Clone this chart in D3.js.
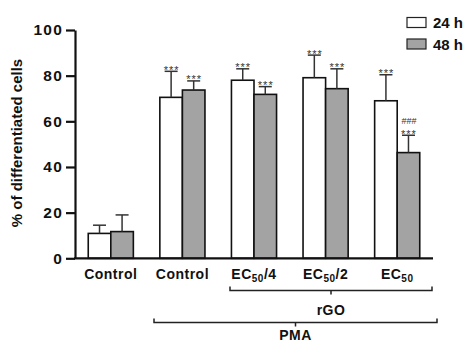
<!DOCTYPE html>
<html>
<head>
<meta charset="utf-8">
<script src="https://cdn.jsdelivr.net/npm/d3@7"></script>
<style>
  body { margin: 0; background: #fff; }
  svg { display: block; font-family: Arial, "Liberation Sans", sans-serif; }
</style>
</head>
<body>
<svg id="chart" width="467" height="344"></svg>
<script>
// values
const groups = ["g1", "g2", "g3", "g4", "g5"];
const groupLabels = [["Control"], ["Control"], ["EC", "50", "/4"], ["EC", "50", "/2"], ["EC", "50"]];
const series = ["24 h", "48 h"];
const mean24 = [10.9, 70.5, 78, 79.1, 69];
const err24 = [3.6, 11.4, 5, 9.9, 11.4];
const mean48 = [11.7, 73.7, 71.8, 74.3, 46.3];
const err48 = [7.3, 4, 3.4, 8.7, 7.6];
const sig24 = ["", "***", "***", "***", "***"];
const sig48 = ["", "***", "***", "***", "***"];
const hash48 = ["", "", "", "", "###"];
const yTicks = [0, 20, 40, 60, 80, 100];

const fills = ["#ffffff", "#a3a3a3"];

const svg = d3.select("#chart");

const x = d3.scaleBand().domain(groups).range([75, 433]).paddingInner(0.37).paddingOuter(0.185);
const xs = d3.scaleBand().domain(series).range([0, x.bandwidth()]);
const y = d3.scaleLinear().domain([0, 100]).range([258.3, 30]);

const rows = [];
groups.forEach((g, i) => {
  rows.push({ g, s: "24 h", v: mean24[i], e: err24[i], sig: sig24[i], hash: "" });
  rows.push({ g, s: "48 h", v: mean48[i], e: err48[i], sig: sig48[i], hash: hash48[i] });
});

// bars
svg.append("g")
  .selectAll("rect")
  .data(rows)
  .join("rect")
  .attr("x", d => x(d.g) + xs(d.s))
  .attr("y", d => y(d.v))
  .attr("width", xs.bandwidth())
  .attr("height", d => y(0) - y(d.v))
  .attr("fill", d => fills[series.indexOf(d.s)])
  .attr("stroke", "#111")
  .attr("stroke-width", 1.6);

// error bars (upper only)
const eb = svg.append("g").attr("stroke", "#333").attr("stroke-width", 1.5);
rows.forEach(d => {
  const cx = x(d.g) + xs(d.s) + xs.bandwidth() / 2;
  eb.append("line").attr("x1", cx).attr("x2", cx).attr("y1", y(d.v)).attr("y2", y(d.v + d.e));
  eb.append("line").attr("x1", cx - 6.5).attr("x2", cx + 6.5).attr("y1", y(d.v + d.e)).attr("y2", y(d.v + d.e));
});

// significance marks
const sg = svg.append("g").attr("text-anchor", "middle").attr("fill", "#333").attr("font-size", 11).attr("letter-spacing", 1);
rows.forEach(d => {
  const cx = x(d.g) + xs(d.s) + xs.bandwidth() / 2 + 0.5;
  const top = y(d.v + d.e);
  if (d.sig) sg.append("text").attr("x", cx).attr("y", top + 2.5).text(d.sig);
  if (d.hash) sg.append("text").attr("x", cx).attr("y", top - 11.5).attr("font-size", 9).attr("letter-spacing", 0).text(d.hash);
});

// y axis
const yAxis = svg.append("g")
  .attr("transform", "translate(75,0)")
  .call(d3.axisLeft(y).tickValues(yTicks).tickSize(9).tickPadding(3).tickSizeOuter(0));
yAxis.select(".domain").attr("stroke", "#111").attr("stroke-width", 2.2);
yAxis.selectAll(".tick line").attr("stroke", "#111").attr("stroke-width", 2.2);
yAxis.selectAll(".tick text")
  .attr("font-size", 15.5).attr("font-weight", "bold").attr("fill", "#111")
  .attr("letter-spacing", 1.2)
  .attr("font-family", "Arial, 'Liberation Sans', sans-serif");

// x axis line
svg.append("line")
  .attr("x1", 74).attr("x2", 433).attr("y1", y(0)).attr("y2", y(0))
  .attr("stroke", "#111").attr("stroke-width", 2.2);

// y title
svg.append("text")
  .attr("transform", `translate(22,143) rotate(-90)`)
  .attr("text-anchor", "middle")
  .attr("font-size", 15).attr("font-weight", "bold").attr("fill", "#111")
  .text("% of differentiated cells");

// category labels
const xl = svg.append("g").attr("font-size", 14).attr("font-weight", "bold").attr("fill", "#111")
  .attr("text-anchor", "middle").attr("letter-spacing", 0.5);
groups.forEach((g, i) => {
  const t = xl.append("text").attr("x", x(g) + x.bandwidth() / 2).attr("y", 279);
  const parts = groupLabels[i];
  t.append("tspan").text(parts[0]);
  if (parts.length > 1) {
    t.append("tspan").attr("font-size", 10).attr("dy", 3).text(parts[1]);
    if (parts[2]) t.append("tspan").attr("dy", -3).text(parts[2]);
  }
});

// brackets
function bracket(x1, x2, yy, label, labelY) {
  const mid = (x1 + x2) / 2;
  svg.append("path")
    .attr("d", `M${x1},${yy - 4}V${yy}H${x2}V${yy - 4}M${mid},${yy}V${yy + 4}`)
    .attr("fill", "none").attr("stroke", "#222").attr("stroke-width", 1.5);
  svg.append("text").attr("x", mid).attr("y", labelY)
    .attr("text-anchor", "middle").attr("font-size", 14).attr("font-weight", "bold").attr("fill", "#111")
    .attr("letter-spacing", 0.5)
    .text(label);
}
bracket(230, 432, 290.5, "rGO", 315);
bracket(154, 437, 322.5, "PMA", 340);

// legend
const lg = svg.append("g");
series.forEach((s, i) => {
  const yy = 17.5 + i * 21.5;
  lg.append("rect").attr("x", 407).attr("y", yy).attr("width", 19).attr("height", 10)
    .attr("fill", fills[i]).attr("stroke", "#222").attr("stroke-width", 1.2);
  lg.append("text").attr("x", 433).attr("y", yy + 10.5)
    .attr("font-size", 15).attr("font-weight", "bold").attr("fill", "#111").text(s);
});
</script>
</body>
</html>
